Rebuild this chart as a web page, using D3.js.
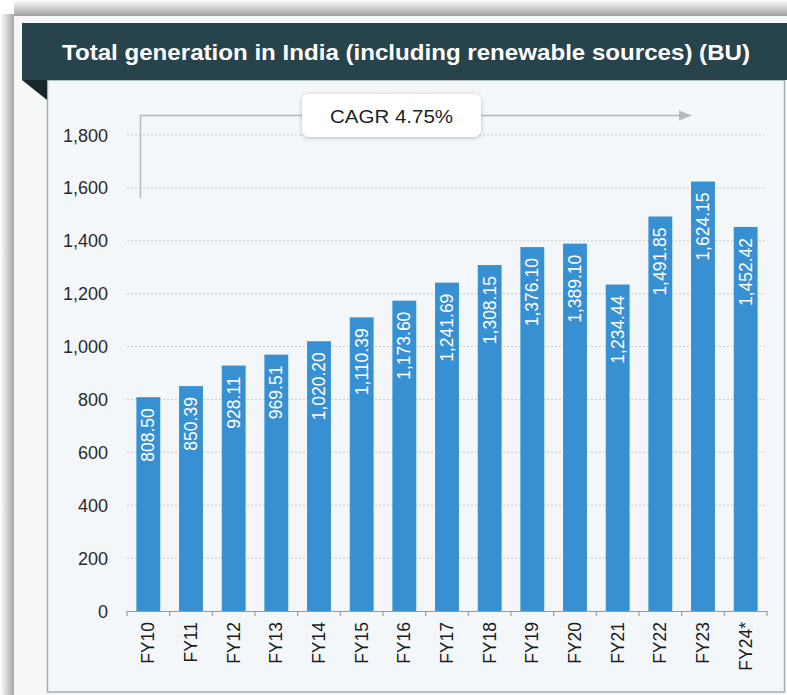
<!DOCTYPE html>
<html><head><meta charset="utf-8">
<script src="https://cdn.jsdelivr.net/npm/d3@7"></script>
<style>
html,body{margin:0;padding:0;background:#fff;}
svg{display:block;}
</style></head>
<body>
<svg id="c" width="787" height="695"></svg>
<script>
const categories = ["FY10","FY11","FY12","FY13","FY14","FY15","FY16","FY17","FY18","FY19","FY20","FY21","FY22","FY23","FY24*"];
const values = [808.50,850.39,928.11,969.51,1020.20,1110.39,1173.60,1241.69,1308.15,1376.10,1389.10,1234.44,1491.85,1624.15,1452.42];
const yTicks = [0,200,400,600,800,1000,1200,1400,1600,1800];
const title = "Total generation in India (including renewable sources) (BU)";
const cagrLabel = "CAGR 4.75%";

const svg = d3.select("#c");
const defs = svg.append("defs");
const gl = defs.append("linearGradient").attr("id","shL").attr("x1",0).attr("x2",1);
gl.append("stop").attr("offset",0).attr("stop-color","#fff");
gl.append("stop").attr("offset",1).attr("stop-color","#9a9a9a");
const gt = defs.append("linearGradient").attr("id","shT").attr("y1",0).attr("y2",1).attr("x1",0).attr("x2",0);
gt.append("stop").attr("offset",0).attr("stop-color","#fff");
gt.append("stop").attr("offset",1).attr("stop-color","#9a9a9a");
const ds = defs.append("filter").attr("id","bs").attr("x","-20%").attr("y","-40%").attr("width","140%").attr("height","180%");
ds.append("feDropShadow").attr("dx",0).attr("dy",1).attr("stdDeviation",2).attr("flood-color","#000").attr("flood-opacity",0.25);

// shadow edges
svg.append("rect").attr("x",0).attr("y",14).attr("width",16).attr("height",681).attr("fill","url(#shL)");
svg.append("rect").attr("x",14).attr("y",0).attr("width",773).attr("height",17).attr("fill","url(#shT)");
svg.append("rect").attr("x",14).attr("y",16).attr("width",773).attr("height",679).attr("fill","#f5f7f8");

// panel
svg.append("rect").attr("x",47.5).attr("y",80).attr("width",737).attr("height",612)
  .attr("fill","#f4f7f9").attr("stroke","#9fb0b5").attr("stroke-width",1.5);
// header
svg.append("rect").attr("x",22).attr("y",23).attr("width",765).attr("height",57).attr("fill","#27444d");
svg.append("path").attr("d","M22,80 L47,80 L47,100 Z").attr("fill","#17262b");
svg.append("text").attr("x",62).attr("y",60)
  .attr("font-family","Liberation Sans, Arial, sans-serif").attr("font-weight","bold")
  .attr("font-size",21.5).attr("fill","#fff")
  .attr("textLength",688).attr("lengthAdjust","spacingAndGlyphs").text(title);

const x = d3.scaleBand().domain(categories).range([127,767]).paddingInner(0.44).paddingOuter(0.22);
const y = d3.scaleLinear().domain([0,1800]).range([611,135]);

// gridlines
svg.append("g").selectAll("line").data(yTicks.filter(d=>d>0)).join("line")
  .attr("x1",127).attr("x2",767).attr("y1",d=>y(d)).attr("y2",d=>y(d))
  .attr("stroke","#c8cdd0").attr("stroke-width",1).attr("stroke-dasharray","2,2");

// y labels
svg.append("g").selectAll("text").data(yTicks).join("text")
  .attr("x",108).attr("y",d=>y(d)+6.5).attr("text-anchor","end")
  .attr("font-family","Liberation Sans, Arial, sans-serif").attr("font-size",18).attr("fill","#2a2a2a")
  .text(d=>d3.format(",")(d));

// bars
svg.append("g").selectAll("rect").data(values).join("rect")
  .attr("x",(d,i)=>x(categories[i])).attr("width",x.bandwidth())
  .attr("y",d=>y(d)).attr("height",d=>y(0)-y(d)).attr("fill","#3790d1");

// bar labels
svg.append("g").selectAll("text").data(values).join("text")
  .attr("transform",(d,i)=>`translate(${x(categories[i])+x.bandwidth()/2+6},${y(d)+11}) rotate(-90)`)
  .attr("text-anchor","end")
  .attr("font-family","Liberation Sans Narrow, Arial Narrow, sans-serif").attr("font-size",17.5)
  .attr("fill","#fff").text(d=>d3.format(",.2f")(d));

// x axis
const xa = svg.append("g").attr("transform","translate(0,611)");
xa.append("line").attr("x1",127).attr("x2",767).attr("y1",0.5).attr("y2",0.5).attr("stroke","#9a9a9a").attr("stroke-width",1.2);
const edges = categories.map(c=>x(c)-x.step()*x.paddingInner()/2).concat([767]);
edges[0]=127;
xa.selectAll("line.t").data(edges).join("line").attr("class","t")
  .attr("x1",d=>d).attr("x2",d=>d).attr("y1",0).attr("y2",5).attr("stroke","#9a9a9a").attr("stroke-width",1.2);
xa.selectAll("text").data(categories).join("text")
  .attr("transform",c=>`translate(${x(c)+x.bandwidth()/2+6},11) rotate(-90)`)
  .attr("text-anchor","end")
  .attr("font-family","Liberation Sans, Arial, sans-serif").attr("font-size",17.5).attr("fill","#1a1a1a")
  .text(c=>c);

// CAGR arrow
svg.append("path").attr("d","M140.5,198 L140.5,115.5 L680,115.5").attr("fill","none").attr("stroke","#b5b9bb").attr("stroke-width",1.5);
svg.append("path").attr("d","M679,110.5 L692,115.5 L679,120.5 Z").attr("fill","#b5b9bb");
svg.append("rect").attr("x",302).attr("y",94).attr("width",179).attr("height",43).attr("rx",7)
  .attr("fill","#fff").attr("filter","url(#bs)");
svg.append("text").attr("x",330).attr("y",122.5)
  .attr("font-family","Liberation Sans, Arial, sans-serif").attr("font-size",18.5).attr("fill","#1e1e1e")
  .attr("textLength",123).attr("lengthAdjust","spacingAndGlyphs").text(cagrLabel);
</script>
</body></html>
